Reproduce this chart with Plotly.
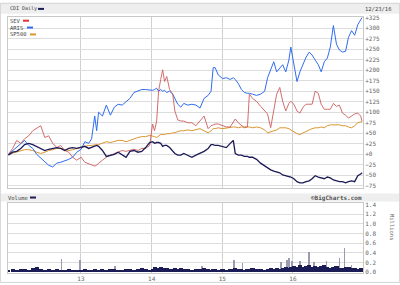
import plotly.graph_objects as go

# ---------------- data ----------------
dates = [
    "2011-12-23", "2012-01-14", "2012-02-04", "2012-02-25", "2012-03-16", "2012-04-06", "2012-04-27", "2012-05-17",
    "2012-06-07", "2012-06-28", "2012-07-18", "2012-08-08", "2012-08-29", "2012-09-18", "2012-10-09", "2012-10-30",
    "2012-11-19", "2012-12-10",
    "2013-01-02", "2013-01-21", "2013-02-10", "2013-02-25", "2013-03-13", "2013-03-23", "2013-04-02", "2013-04-22",
    "2013-05-12", "2013-06-02", "2013-06-22", "2013-07-12", "2013-08-02", "2013-08-22", "2013-09-11", "2013-10-02",
    "2013-10-22", "2013-11-11", "2013-12-01", "2013-12-22",
    "2014-01-06", "2014-01-16", "2014-01-27", "2014-02-06", "2014-02-17", "2014-02-27", "2014-03-09", "2014-03-20",
    "2014-04-04", "2014-04-20", "2014-05-01", "2014-05-16", "2014-06-01", "2014-06-16", "2014-07-07", "2014-07-28",
    "2014-08-18", "2014-09-08", "2014-09-29", "2014-10-20", "2014-11-04", "2014-11-15", "2014-11-25", "2014-12-11",
    "2015-01-02", "2015-01-22", "2015-02-11", "2015-02-27", "2015-03-09", "2015-03-25", "2015-04-10", "2015-04-25",
    "2015-05-11", "2015-05-21", "2015-06-06", "2015-06-27", "2015-07-18", "2015-08-08", "2015-08-23", "2015-09-08",
    "2015-09-24", "2015-10-09", "2015-10-25", "2015-11-09", "2015-11-25", "2015-12-11", "2015-12-21",
    "2016-01-06", "2016-01-22", "2016-02-06", "2016-02-22", "2016-03-09", "2016-03-25", "2016-04-09", "2016-04-25",
    "2016-05-11", "2016-05-26", "2016-06-11", "2016-06-27", "2016-07-12", "2016-07-28", "2016-08-13", "2016-08-28",
    "2016-09-13", "2016-09-29", "2016-10-14", "2016-10-30", "2016-11-15", "2016-12-01", "2016-12-16", "2016-12-23",
]

# percent change since start
aris = [
    0, 9, 16, 26, 33, 21, 14, 0, -9, -19, -26, -30, -21, -19, -16, -12, -7, 5,
    12, 30, 26, 37, 91, 56, 100, 91, 117, 93, 112, 119, 117, 126, 133, 147, 150, 154, 154, 152,
    152, 154, 157, 150, 154, 150, 152, 147, 150, 143, 133, 119, 112, 121, 117, 119, 117, 110, 133, 140, 150, 206, 206, 189,
    180, 182, 178, 182, 178, 168, 154, 147, 145, 145, 143, 140, 143, 150, 182, 203, 220, 196, 206, 213, 196, 224, 255,
    215, 173, 196, 213, 231, 243, 236, 224, 213, 196, 220, 229, 255, 306, 262, 248, 243, 245, 278, 294, 283, 308, 320, 325,
]
sev = [
    0, 14, 33, 26, 37, 44, 56, 61, 68, 40, 44, 26, 16, 21, 9, 5, -7, -14,
    -7, -19, -23, -26, -28, -26, -21, -14, -7, -2, 2, 5, 9, 7, 9, 12, 9, 14, 14, 21,
    72, 56, 79, 150, 178, 201, 173, 185, 154, 143, 103, 82, 79, 79, 75, 75, 68, 79, 91, 61, 68, 70, 72, 72,
    68, 65, 65, 79, 84, 75, 68, 63, 65, 143, 133, 126, 114, 103, 96, 63, 110, 143, 159, 126, 103, 121, 126,
    119, 103, 98, 112, 119, 119, 119, 150, 145, 119, 107, 107, 107, 121, 114, 117, 98, 93, 86, 91, 96, 98, 91, 79,
]
sp500 = [
    0, 3, 7, 9, 11, 11, 9, 5, 2, 5, 9, 11, 14, 14, 11, 9, 11, 14,
    16, 19, 21, 21, 23, 23, 23, 26, 30, 28, 30, 33, 33, 30, 33, 37, 40, 42, 42, 45,
    44, 42, 40, 44, 47, 47, 47, 49, 49, 51, 51, 54, 56, 56, 58, 56, 58, 61, 56, 51, 56, 61, 61, 63,
    61, 63, 65, 65, 65, 63, 65, 65, 66, 65, 63, 65, 63, 58, 51, 54, 56, 58, 63, 63, 63, 61, 58,
    54, 49, 47, 51, 56, 58, 61, 63, 63, 65, 63, 68, 70, 70, 70, 70, 68, 68, 65, 63, 68, 75, 77, 78,
]
cdi = [
    -2, 5, 7, 14, 23, 26, 23, 19, 14, 9, 12, 14, 16, 14, 9, 14, 16, 14,
    16, 19, 14, 16, 19, 21, 19, 9, -5, -2, 0, 5, -2, -7, 7, 9, 5, 7, 16, 28,
    30, 26, 28, 28, 26, 19, 21, 21, 16, 9, 2, -2, -2, 2, -2, -7, -2, 2, 7, 14, 23, 23, 21, 21,
    19, 16, 26, 33, 2, -2, -2, -5, -5, -7, -7, -12, -21, -28, -33, -37, -40, -42, -44, -49, -51, -54, -54,
    -58, -65, -68, -68, -65, -63, -58, -51, -54, -56, -58, -54, -56, -61, -63, -65, -65, -68, -65, -63, -65, -51, -47, -44,
]
# volume, millions
volume = [
    0.04, 0.05, 0.03, 0.06, 0.05, 0.04, 0.07, 0.10, 0.05, 0.04, 0.06, 0.03, 0.05, 0.04, 0.03, 0.05, 0.04, 0.03,
    0.04, 0.05, 0.03, 0.04, 0.06, 0.04, 0.03, 0.05, 0.04, 0.06, 0.05, 0.03, 0.04, 0.06, 0.05, 0.04, 0.05, 0.07, 0.05, 0.04,
    0.06, 0.09, 0.07, 0.08, 0.10, 0.08, 0.06, 0.07, 0.05, 0.06, 0.08, 0.05, 0.07, 0.06, 0.05, 0.04, 0.06, 0.05, 0.07, 0.05, 0.04, 0.06, 0.05, 0.04,
    0.05, 0.04, 0.06, 0.05, 0.07, 0.06, 0.05, 0.04, 0.06, 0.05, 0.07, 0.06, 0.05, 0.04, 0.06, 0.07, 0.05, 0.08, 0.06, 0.07, 0.10, 0.08, 0.09,
    0.12, 0.10, 0.14, 0.09, 0.11, 0.13, 0.10, 0.12, 0.09, 0.11, 0.13, 0.10, 0.08, 0.09, 0.11, 0.08, 0.07, 0.09, 0.10, 0.08, 0.07, 0.06, 0.07, 0.05,
]
spike_dates = [
    "2012-09-23", "2012-12-27", "2013-06-27", "2014-09-18", "2015-03-04", "2015-04-15", "2015-10-30",
    "2015-11-30", "2015-12-11", "2015-12-27", "2016-02-06", "2016-03-25", "2016-04-20", "2016-06-22",
    "2016-08-28", "2016-09-24", "2016-10-30",
]
spike_vals = [0.27, 0.25, 0.12, 0.12, 0.24, 0.18, 0.20, 0.24, 0.28, 0.22, 0.22, 0.41, 0.20, 0.22, 0.28, 0.49, 0.13]

pct_ticks = list(range(-75, 326, 25))
vol_ticks = [0.0, 0.2, 0.4, 0.6, 0.8, 1.0, 1.2, 1.4]
year_ticks = ["2013-01-01", "2014-01-01", "2015-01-01", "2016-01-01"]
year_labels = ["13", "14", "15", "16"]

# ---------------- figure ----------------
W, H = 400, 285
def px(x):
    return x / W
def py(y):
    return 1 - y / H

NAVY = "#1b1b55"
RED = "#cc5555"
BLUE = "#2f6cf0"
ORANGE = "#d9952f"
GRID = "#dddddd"
FONT = "DejaVu Sans Mono"

fig = go.Figure()
fig.add_trace(go.Scatter(x=dates, y=sp500, mode="lines", line=dict(color=ORANGE, width=1), xaxis="x", yaxis="y"))
fig.add_trace(go.Scatter(x=dates, y=aris, mode="lines", line=dict(color=BLUE, width=1), xaxis="x", yaxis="y"))
fig.add_trace(go.Scatter(x=dates, y=sev, mode="lines", line=dict(color=RED, width=1), opacity=0.85, xaxis="x", yaxis="y"))
fig.add_trace(go.Scatter(x=dates, y=cdi, mode="lines", line=dict(color=NAVY, width=1.3), xaxis="x", yaxis="y"))

fig.add_trace(go.Bar(x=spike_dates, y=spike_vals, marker=dict(color="#9a9ab0", line=dict(width=0)),
                     width=3 * 86400000, xaxis="x2", yaxis="y2"))
fig.add_trace(go.Bar(x=dates, y=volume, marker=dict(color=NAVY, line=dict(width=0)),
                     width=21 * 86400000, xaxis="x2", yaxis="y2"))

xrange = ["2011-12-21", "2016-12-28"]
xdom = [px(8), px(363)]
TICKFONT = dict(family=FONT, size=6, color="#666666")

fig.update_layout(
    width=W, height=H,
    margin=dict(l=0, r=0, t=0, b=0),
    paper_bgcolor="white", plot_bgcolor="white",
    showlegend=False, barmode="overlay", bargap=0,
    font=dict(family=FONT, size=6, color="#555555"),
    xaxis=dict(domain=xdom, range=xrange, type="date", anchor="y",
               tickvals=year_ticks, showticklabels=False, ticks="",
               showgrid=True, gridcolor="#d0d0d0", gridwidth=1,
               showline=True, linecolor="#c8c8c8", mirror=True, zeroline=False),
    yaxis=dict(domain=[py(188), py(14)], range=[-79.4, 327], side="right", anchor="x",
               tickvals=pct_ticks, tickformat="+d", ticksuffix="%", ticks="",
               showgrid=True, gridcolor=GRID, gridwidth=1, zeroline=False,
               showline=True, linecolor="#c8c8c8", mirror=True, tickfont=TICKFONT),
    xaxis2=dict(domain=xdom, range=xrange, type="date", anchor="y2",
                tickvals=year_ticks, ticktext=year_labels, ticks="",
                showgrid=True, gridcolor="#d0d0d0", gridwidth=1,
                showline=True, linecolor="#c8c8c8", mirror=True, zeroline=False, tickfont=TICKFONT),
    yaxis2=dict(domain=[py(275), py(204)], range=[-0.02, 1.42], side="right", anchor="x2",
                tickvals=vol_ticks, tickformat=".1f", ticks="",
                showgrid=True, gridcolor=GRID, gridwidth=1, zeroline=False,
                showline=True, linecolor="#c8c8c8", mirror=True, tickfont=TICKFONT),
)

shapes = [
    # header strips
    dict(type="rect", xref="paper", yref="paper", x0=0, x1=1, y0=py(11), y1=1,
         fillcolor="#eeeeee", line=dict(width=0), layer="below"),
    dict(type="rect", xref="paper", yref="paper", x0=0, x1=1, y0=py(202), y1=py(194),
         fillcolor="#eeeeee", line=dict(width=0), layer="below"),
    # legend swatches
    dict(type="line", xref="paper", yref="paper", x0=px(38), x1=px(44), y0=py(6), y1=py(6),
         line=dict(color=NAVY, width=2)),
    dict(type="line", xref="paper", yref="paper", x0=px(23), x1=px(29), y0=py(18), y1=py(18),
         line=dict(color="#e03030", width=2)),
    dict(type="line", xref="paper", yref="paper", x0=px(27), x1=px(33), y0=py(25), y1=py(25),
         line=dict(color=BLUE, width=2)),
    dict(type="line", xref="paper", yref="paper", x0=px(30), x1=px(36), y0=py(32), y1=py(32),
         line=dict(color=ORANGE, width=2)),
    dict(type="line", xref="paper", yref="paper", x0=px(30), x1=px(36), y0=py(198), y1=py(198),
         line=dict(color=NAVY, width=2)),
    # outer border
    dict(type="rect", xref="paper", yref="paper", x0=0.001, x1=0.999, y0=0.002, y1=0.999,
         line=dict(color="#d5d5d5", width=1)),
]
fig.update_layout(shapes=shapes)

def label(text, x, y, anchor="left", size=5.5, color="#444444", angle=0):
    return dict(text=text, xref="paper", yref="paper", x=px(x), y=py(y), xanchor=anchor, yanchor="middle",
                showarrow=False, textangle=angle, borderpad=0,
                font=dict(family=FONT, size=size, color=color))

fig.update_layout(annotations=[
    label("CDI Daily", 9, 6, size=5),
    label("12/23/16", 393, 6, anchor="right", size=5.5),
    label("SEV", 9, 18),
    label("ARIS", 9, 25),
    label("SP500", 9, 32),
    label("Volume", 7, 198),
    label("<b>©BigCharts.com</b>", 363, 198, anchor="right", size=6, color="#555555"),
    label("Millions", 392, 228, anchor="center", angle=90, color="#666666"),
])

fig.write_html("out.html", config={"displayModeBar": False})
